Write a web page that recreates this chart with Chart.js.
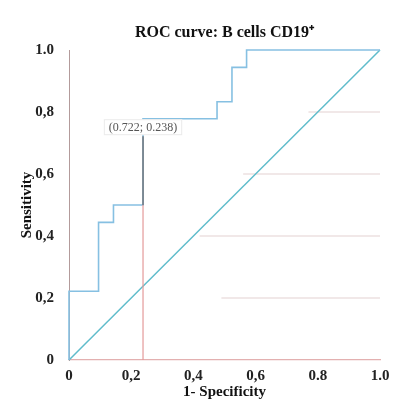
<!DOCTYPE html>
<html>
<head>
<meta charset="utf-8">
<script src="https://cdn.jsdelivr.net/npm/chart.js@4.4.1/dist/chart.umd.min.js"></script>
<style>
  html, body { margin: 0; padding: 0; background: #ffffff; }
  #wrap { width: 404px; height: 410px; position: relative; }
</style>
</head>
<body>
<div id="wrap"><canvas id="c" width="404" height="410"></canvas></div>
<script>
// ROC curve corner points (1 - specificity, sensitivity)
const fpr = [0, 0, 0.095, 0.095, 0.143, 0.143, 0.238, 0.238, 0.476, 0.476, 0.524, 0.524, 0.571, 0.571, 1];
const tpr = [0, 0.222, 0.222, 0.444, 0.444, 0.5, 0.5, 0.778, 0.778, 0.833, 0.833, 0.944, 0.944, 1, 1];
// reference diagonal
const diagX = [0, 1];
const diagY = [0, 1];
// cut-off point
const cutX = 0.238;
const cutY = 0.722;
const cutLabel = "(0.722; 0.238)";
// faint partial horizontal guide lines
const guideLevels = [0.2, 0.4, 0.6, 0.8];
const guideStarts = [0.49, 0.42, 0.56, 0.77];
// tick labels
const xTickLabels = ["0", "0,2", "0,4", "0,6", "0.8", "1.0"];
const yTickLabels = ["0", "0,2", "0,4", "0,6", "0,8", "1.0"];
const titleText = "ROC curve: B cells CD19\u207A";
const xTitle = "1- Specificity";
const yTitle = "Sensitivity";

const serif = "'Liberation Serif', 'Times New Roman', serif";

const pts = (xs, ys) => xs.map((x, i) => ({ x: x, y: ys[i] }));

const datasets = [];
// drop line (upper dark part, lower red part)
datasets.push({ data: [{ x: cutX, y: cutY }, { x: cutX, y: 0.5 }], borderColor: '#6a6060', borderWidth: 1.2, pointRadius: 0, clip: 4 });
datasets.push({ data: [{ x: cutX, y: 0.5 }, { x: cutX, y: 0 }], borderColor: '#e49a9a', borderWidth: 1.2, pointRadius: 0, clip: 4 });
// ROC curve
datasets.push({ data: pts(fpr, tpr), borderColor: '#86c0e2', borderWidth: 1.6, pointRadius: 0, clip: 4 });
// diagonal
datasets.push({ data: pts(diagX, diagY), borderColor: '#5fbccb', borderWidth: 1.5, pointRadius: 0, clip: 4 });
// guides
guideLevels.forEach((lv, i) => {
  datasets.push({ data: [{ x: guideStarts[i], y: lv }, { x: 1, y: lv }], borderColor: 'rgba(215,190,190,0.7)', borderWidth: 1, pointRadius: 0 });
});

const labelPlugin = {
  id: 'cutLabel',
  afterDatasetsDraw(chart) {
    const ctx = chart.ctx;
    const px = chart.scales.x.getPixelForValue(cutX);
    const py = chart.scales.y.getPixelForValue(cutY);
    ctx.save();
    ctx.font = "12px " + serif;
    const w = ctx.measureText(cutLabel).width + 10;
    const h = 16;
    const cy = py - 9;
    ctx.fillStyle = '#ffffff';
    ctx.fillRect(px - w / 2, cy - h / 2, w, h);
    ctx.strokeStyle = 'rgba(215,215,215,0.5)';
    ctx.lineWidth = 1;
    ctx.strokeRect(px - w / 2 + 0.5, cy - h / 2 + 0.5, w - 1, h - 1);
    ctx.fillStyle = '#555555';
    ctx.textAlign = 'center';
    ctx.textBaseline = 'middle';
    ctx.fillText(cutLabel, px, cy + 1);
    ctx.restore();
  }
};

new Chart(document.getElementById('c'), {
  type: 'line',
  data: { datasets: datasets },
  options: {
    responsive: false,
    animation: false,
    devicePixelRatio: 1,
    layout: { padding: { top: 0, right: 24, bottom: 0, left: 0 } },
    elements: { line: { tension: 0 } },
    plugins: {
      legend: { display: false },
      tooltip: { enabled: false },
      title: {
        display: true,
        text: titleText,
        fullSize: false,
        color: '#111111',
        font: { family: serif, size: 16, weight: 'bold', lineHeight: 1.125 },
        padding: { top: 24, bottom: 8 }
      }
    },
    scales: {
      x: {
        type: 'linear', min: 0, max: 1,
        afterFit: (s) => { s.height = 50; },
        grid: { display: false, drawTicks: false },
        border: { display: true, color: '#e3b0b0', width: 1.2 },
        ticks: {
          stepSize: 0.2, padding: 7, color: '#222222',
          font: { family: serif, size: 15, weight: 'bold' },
          maxRotation: 0,
          callback: (v) => { const i = Math.round(v * 5); return xTickLabels[i]; }
        },
        title: {
          display: true, text: xTitle, color: '#111111',
          font: { family: serif, size: 15, weight: 'bold' },
          padding: { top: 0, bottom: 9 }
        }
      },
      y: {
        type: 'linear', min: 0, max: 1,
        afterFit: (s) => { s.width = 69; },
        grid: { display: false, drawTicks: false },
        border: { display: true, color: '#b39b9b', width: 1 },
        ticks: {
          stepSize: 0.2, padding: 15, color: '#222222',
          font: { family: serif, size: 15, weight: 'bold' },
          callback: (v) => { const i = Math.round(v * 5); return yTickLabels[i]; }
        },
        title: {
          display: true, text: yTitle, color: '#111111',
          font: { family: serif, size: 15, weight: 'bold' },
          padding: { top: 18, bottom: 0 }
        }
      }
    }
  },
  plugins: [labelPlugin]
});
</script>
</body>
</html>
